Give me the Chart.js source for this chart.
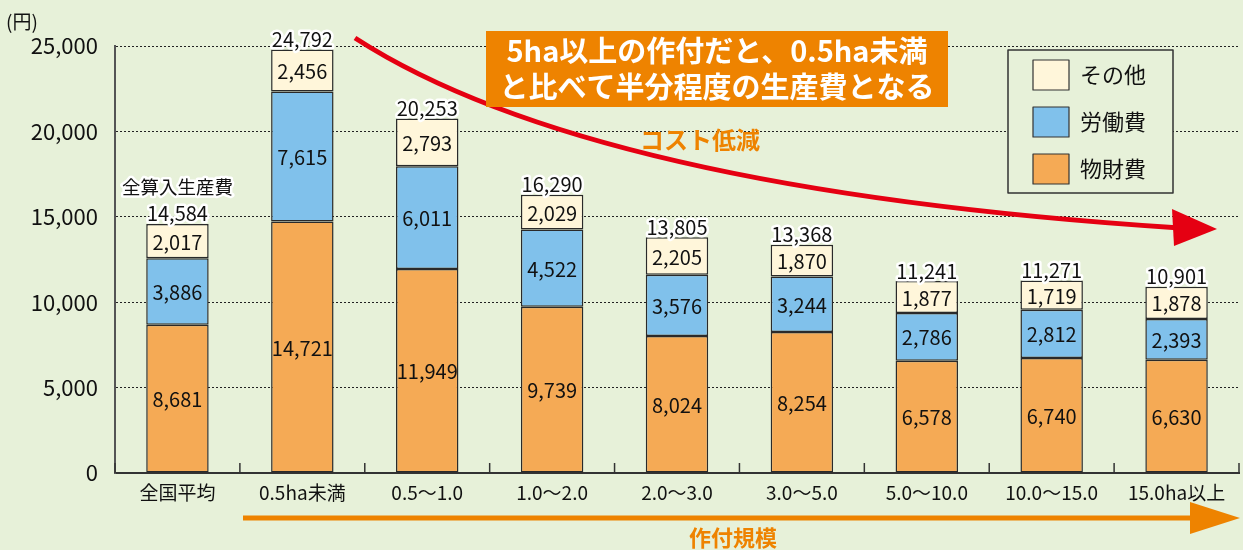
<!DOCTYPE html>
<html lang="ja">
<head>
<meta charset="UTF-8">
<title>作付規模別 生産費</title>
<script src="https://cdn.jsdelivr.net/npm/chart.js@4.4.1/dist/chart.umd.min.js"></script>
<style>
  html, body { margin: 0; padding: 0; background: #e7f1d9; }
  #wrap { width: 1243px; height: 550px; }
</style>
</head>
<body>
<div id="wrap"><canvas id="costChart" width="1243" height="550"></canvas></div>
<script>
// 作付規模（ha）
const categories = ['全国平均', '0.5ha未満', '0.5～1.0', '1.0～2.0', '2.0～3.0', '3.0～5.0', '5.0～10.0', '10.0～15.0', '15.0ha以上'];
// 費目別（円）
const busshitsuhi = [8681, 14721, 11949, 9739, 8024, 8254, 6578, 6740, 6630];
const roudouhi = [3886, 7615, 6011, 4522, 3576, 3244, 2786, 2812, 2393];
const sonota = [2017, 2456, 2793, 2029, 2205, 1870, 1877, 1719, 1878];
const totals = [14584, 24792, 20253, 16290, 13805, 13368, 11241, 11271, 10901];
const yTicks = [0, 5000, 10000, 15000, 20000, 25000];

const FONT = '"Noto Sans CJK JP", "Noto Sans", sans-serif';
const ORANGE = '#ee8300';
const fmt = v => v.toLocaleString('en-US');

function haloText(ctx, text, x, y, size, weight) {
  ctx.font = (weight || 'normal') + ' ' + size + 'px ' + FONT;
  ctx.lineJoin = 'round';
  ctx.strokeStyle = '#ffffff';
  ctx.lineWidth = 5;
  ctx.strokeText(text, x, y);
  ctx.fillStyle = '#111';
  ctx.fillText(text, x, y);
}

// 棒の中の数値・合計・注記
const annotations = {
  id: 'annotations',
  beforeDatasetsDraw(chart) {
    // カテゴリ境界の小さい目盛り
    const { ctx, scales: { x, y } } = chart;
    ctx.save();
    ctx.strokeStyle = '#333';
    ctx.lineWidth = 1.5;
    const half = (x.getPixelForValue(1) - x.getPixelForValue(0)) / 2;
    for (let i = 0; i <= categories.length; i++) {
      const px = x.getPixelForValue(i) - half;
      ctx.beginPath();
      ctx.moveTo(px, y.bottom);
      ctx.lineTo(px, y.bottom - 10);
      ctx.stroke();
    }
    ctx.restore();
  },
  afterDatasetsDraw(chart) {
    const { ctx, scales: { x, y } } = chart;
    ctx.save();
    ctx.textAlign = 'center';
    ctx.textBaseline = 'middle';
    ctx.fillStyle = '#111';
    ctx.font = '20px ' + FONT;
    chart.data.datasets.forEach((ds, di) => {
      const meta = chart.getDatasetMeta(di);
      meta.data.forEach((bar, i) => {
        ctx.fillText(fmt(ds.data[i]), bar.x, (bar.y + bar.base) / 2 + 1);
      });
    });
    // 合計
    totals.forEach((t, i) => {
      const px = x.getPixelForValue(i);
      const py = y.getPixelForValue(busshitsuhi[i] + roudouhi[i] + sonota[i]);
      ctx.textBaseline = 'bottom';
      haloText(ctx, fmt(t), px, py, 20);
    });
    haloText(ctx, '全算入生産費', x.getPixelForValue(0), y.getPixelForValue(totals[0]) - 28, 18.5);

    // (円)
    ctx.textAlign = 'left';
    ctx.textBaseline = 'middle';
    ctx.fillStyle = '#111';
    ctx.font = '19px ' + FONT;
    ctx.fillText('(円)', 6, 22);

    // 赤い矢印（コスト低減）
    ctx.strokeStyle = '#e50012';
    ctx.fillStyle = '#e50012';
    ctx.lineWidth = 5;
    ctx.beginPath();
    ctx.moveTo(355, 38);
    ctx.quadraticCurveTo(590, 190, 1180, 228);
    ctx.stroke();
    ctx.beginPath();
    ctx.moveTo(1217, 229);
    ctx.lineTo(1172, 209);
    ctx.lineTo(1174, 246);
    ctx.closePath();
    ctx.fill();

    // オレンジの説明ボックス
    ctx.fillStyle = ORANGE;
    ctx.fillRect(486, 31, 462, 76);
    ctx.fillStyle = '#ffffff';
    ctx.textAlign = 'center';
    ctx.font = 'bold 29px ' + FONT;
    ctx.fillText('5ha以上の作付だと、0.5ha未満', 717, 51);
    ctx.fillText('と比べて半分程度の生産費となる', 717, 87);

    ctx.fillStyle = ORANGE;
    ctx.font = 'bold 24px ' + FONT;
    ctx.fillText('コスト低減', 700, 140);

    // 凡例
    ctx.fillStyle = '#e7f1d9';
    ctx.fillRect(1008, 50, 165, 143);
    ctx.strokeStyle = '#333';
    ctx.lineWidth = 1.5;
    ctx.strokeRect(1008, 50, 165, 143);
    const legendItems = [2, 1, 0];
    legendItems.forEach((di, r) => {
      const ds = chart.data.datasets[di];
      const ly = 75 + r * 47;
      ctx.fillStyle = ds.backgroundColor;
      ctx.fillRect(1033, ly - 15, 36, 30);
      ctx.strokeStyle = '#333';
      ctx.lineWidth = 1.2;
      ctx.strokeRect(1033, ly - 15, 36, 30);
      ctx.fillStyle = '#111';
      ctx.textAlign = 'left';
      ctx.font = '22px ' + FONT;
      ctx.fillText(ds.label, 1080, ly);
    });

    // 作付規模の矢印
    ctx.strokeStyle = ORANGE;
    ctx.fillStyle = ORANGE;
    ctx.lineWidth = 5;
    ctx.beginPath();
    ctx.moveTo(243, 518);
    ctx.lineTo(1210, 518);
    ctx.stroke();
    ctx.beginPath();
    ctx.moveTo(1240, 518);
    ctx.lineTo(1190, 502);
    ctx.lineTo(1190, 534);
    ctx.closePath();
    ctx.fill();
    ctx.textAlign = 'center';
    ctx.font = 'bold 22px ' + FONT;
    ctx.fillText('作付規模', 733, 538);
    ctx.restore();
  }
};

const barStyle = { borderColor: '#2a2a2a', borderWidth: 1.5, borderSkipped: false, barPercentage: 0.5, categoryPercentage: 1.0 };

new Chart(document.getElementById('costChart'), {
  type: 'bar',
  data: {
    labels: categories,
    datasets: [
      Object.assign({ label: '物財費', data: busshitsuhi, backgroundColor: '#f5aa55' }, barStyle),
      Object.assign({ label: '労働費', data: roudouhi, backgroundColor: '#80c1eb' }, barStyle),
      Object.assign({ label: 'その他', data: sonota, backgroundColor: '#fff6da' }, barStyle)
    ]
  },
  options: {
    responsive: false,
    animation: false,
    layout: { padding: { top: 46, right: 4, left: 0, bottom: 0 } },
    plugins: { legend: { display: false }, tooltip: { enabled: false } },
    scales: {
      x: {
        stacked: true,
        grid: { display: false, drawTicks: false },
        border: { display: true, color: '#333', width: 2 },
        ticks: { color: '#111', font: { family: FONT, size: 19 }, padding: 8, maxRotation: 0, autoSkip: false },
        afterFit: s => { s.height = 77; }
      },
      y: {
        stacked: true,
        min: 0,
        max: 25000,
        afterBuildTicks: s => { s.ticks = yTicks.map(v => ({ value: v })); },
        grid: { color: '#222', lineWidth: 1, drawTicks: false },
        border: { display: true, color: '#555', width: 2, dash: [2, 2] },
        ticks: { color: '#111', font: { family: FONT, size: 22 }, padding: 17, callback: v => fmt(v) },
        afterFit: s => { s.width = 115; }
      }
    }
  },
  plugins: [annotations]
});
</script>
</body>
</html>
